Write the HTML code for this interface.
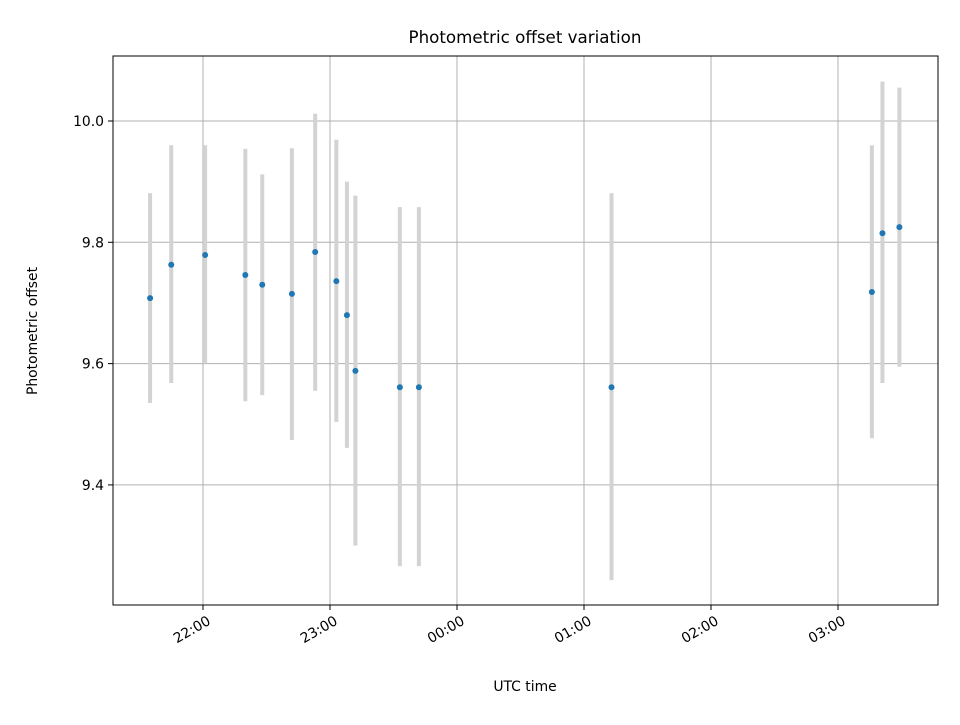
<!DOCTYPE html>
<html><head><meta charset="utf-8"><style>
body{margin:0;background:#fff;}
svg{font-family:"DejaVu Sans","Liberation Sans",sans-serif;}
</style></head><body>
<svg id="chart" width="960" height="720" viewBox="0 0 960 720">
<rect width="960" height="720" fill="#fff"/>
<text x="525" y="43" font-size="16.7" text-anchor="middle">Photometric offset variation</text>
<g id="grid"></g>
<g id="bars"></g>
<g id="pts"></g>
<g id="axes"></g>
<rect x="113" y="56" width="825" height="549" fill="none" stroke="#000" stroke-width="1"/>
<text x="525" y="691" font-size="13.9" text-anchor="middle">UTC time</text>
<text transform="translate(37,331) rotate(-90)" font-size="13.9" text-anchor="middle">Photometric offset</text>
</svg>
<script>
const times=["21:35","21:45","22:01","22:20","22:28","22:42","22:53","23:03","23:08","23:12","23:33","23:42","01:13","03:16","03:21","03:29"];
const offsets=[9.708,9.763,9.779,9.746,9.730,9.715,9.784,9.736,9.680,9.588,9.561,9.561,9.561,9.718,9.815,9.825];
const upper=[9.881,9.960,9.960,9.954,9.912,9.955,10.012,9.969,9.900,9.877,9.858,9.858,9.881,9.960,10.065,10.055];
const lower=[9.535,9.568,9.600,9.538,9.548,9.474,9.555,9.504,9.461,9.300,9.266,9.266,9.243,9.477,9.568,9.595];
const xTicks=["22:00","23:00","00:00","01:00","02:00","03:00"];
const yTicks=[9.4,9.6,9.8,10.0];

const NS="http://www.w3.org/2000/svg";
function mins(t){let [h,m]=t.split(":").map(Number);if(h<12)h+=24;return (h-22)*60+m;}
function X(t){return 203+mins(t)*127/60;}
function Y(v){return 121+(10-v)*606.5;}
function mk(tag,attrs,parent){const e=document.createElementNS(NS,tag);for(const k in attrs)e.setAttribute(k,attrs[k]);document.getElementById(parent).appendChild(e);return e;}

xTicks.forEach(t=>{
  const x=X(t);
  const g=mk("line",{x1:x,x2:x,y1:56,y2:605,stroke:"#b0b0b0","stroke-width":1},"grid");
  
  
  const tk=mk("line",{x1:x,x2:x,y1:605,y2:610,stroke:"#000"},"axes");
  
  
  const tx=mk("text",{transform:`translate(${x+3},${614}) rotate(-30)`,y:11,"font-size":13.9,"text-anchor":"end"},"axes");
  tx.textContent=t;
  
  
});
yTicks.forEach(v=>{
  const y=Y(v);
  const g=mk("line",{x1:113,x2:938,y1:y,y2:y,stroke:"#b0b0b0","stroke-width":1},"grid");
  
  
  const tk=mk("line",{x1:108,x2:113,y1:y,y2:y,stroke:"#000"},"axes");
  
  
  const tx=mk("text",{x:104,y:y+5,"font-size":13.9,"text-anchor":"end"},"axes");
  tx.textContent=v.toFixed(1);
  
  
});
times.forEach((t,i)=>{
  const x=X(t);
  const b=mk("line",{x1:x,x2:x,y1:Y(upper[i]),y2:Y(lower[i]),stroke:"#d3d3d3","stroke-width":4},"bars");
  
  
  const p=mk("circle",{cx:x,cy:Y(offsets[i]),r:3,fill:"#1f77b4"},"pts");
  
  
});
</script>
</body></html>
